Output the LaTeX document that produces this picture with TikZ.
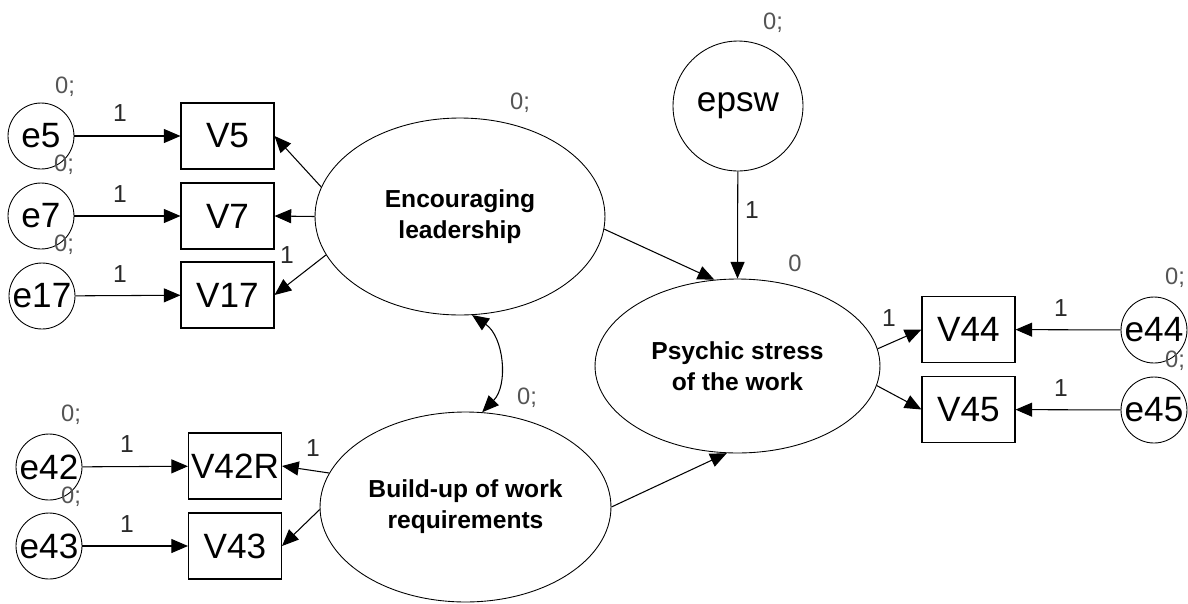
\documentclass[tikz,border=0pt]{standalone}
\usepackage{fontspec}
\setmainfont{Liberation Sans}
\usetikzlibrary{arrows.meta,shapes.geometric}
\definecolor{zgray}{HTML}{555555}
\definecolor{ogray}{HTML}{2A2A2A}
\begin{document}
\begin{tikzpicture}[x=0.02cm,y=-0.02cm,
  obs/.style={draw, rectangle, line width=0.6pt, minimum width=1.86cm, minimum height=1.32cm, inner sep=0pt, font=\fontsize{20}{22}\selectfont},
  err/.style={draw, circle, line width=0.5pt, minimum size=1.32cm, inner sep=0pt, font=\fontsize{20}{22}\selectfont},
  lat/.style={draw, ellipse, line width=0.5pt, inner sep=0pt, align=center, font=\fontsize{14}{17.6}\selectfont\bfseries},
  zlab/.style={text=zgray, font=\fontsize{13.5}{14}\selectfont, inner sep=0pt},
  onelab/.style={text=ogray, font=\fontsize{14}{15}\selectfont, inner sep=0pt},
  arr/.style={-{Triangle[length=9.5pt,width=8pt]}, line width=0.6pt},
  darr/.style={{Triangle[length=9.5pt,width=8pt]}-{Triangle[length=9.5pt,width=8pt]}, line width=0.6pt}
]
\useasboundingbox (0,0) rectangle (1188,603);

% observed variables
\node[obs] (V5)   at (227.5,136) {V5};
\node[obs] (V7)   at (227.5,216) {V7};
\node[obs] (V17)  at (227.5,295) {V17};
\node[obs] (V42R) at (235,466) {V42R};
\node[obs] (V43)  at (235,546) {V43};
\node[obs] (V44)  at (968.5,329.5) {V44};
\node[obs] (V45)  at (968.5,409.5) {V45};

% error terms
\node[err] (e5)  at (41,136) {e5};
\node[err] (e7)  at (41,216) {e7};
\node[err] (e17) at (42,296) {e17};
\node[err] (e42) at (49,467) {e42};
\node[err] (e43) at (49,546) {e43};
\node[err] (e44) at (1154,330) {e44};
\node[err] (e45) at (1154,410) {e45};
\node[err, minimum size=2.6cm] (epsw) at (738,106) {epsw};

% latent variables
\node[lat, minimum width=5.8cm, minimum height=3.94cm] (EL) at (460,216.5) {Encouraging\\leadership};
\node[lat, minimum width=5.82cm, minimum height=3.8cm] (BU) at (465.5,507) {Build-up of work\\requirements};
\node[lat, minimum width=5.7cm, minimum height=3.48cm] (PS) at (737.5,366) {Psychic stress\\of the work};

% error arrows
\draw[arr] (e5) -- (V5);
\draw[arr] (e7) -- (V7);
\draw[arr] (e17) -- (V17);
\draw[arr] (e42) -- (V42R);
\draw[arr] (e43) -- (V43);
\draw[arr] (e44) -- (V44);
\draw[arr] (e45) -- (V45);
\draw[arr] (epsw) -- (PS.north);

% loadings
\draw[arr] (EL.168) -- (V5.east);
\draw[arr] (EL.180) -- (V7.east);
\draw[arr] (EL.196) -- (V17.east);
\draw[arr] (BU.166) -- (V42R.east);
\draw[arr] (BU.181) -- (V43.east);
\draw[arr] (PS.7) -- (V44.west);
\draw[arr] (PS.352) -- (V45.west);

% structural paths
\draw[arr] (EL.355) -- (PS.105);
\draw[arr] (BU.0) -- (PS.263);
\draw[darr] (EL.277) to[bend left=50] (BU.80);

% variance / intercept labels
\node[zlab] (z5)  at (65,87) {0;};
\node[zlab] (z7)  at (64,165) {0;};
\node[zlab] (z17) at (64,245) {0;};
\node[zlab] (zEL) at (520,103) {0;};
\node[zlab] (zep) at (773,23) {0;};
\node[zlab] (zPS) at (795,263) {0};
\node[zlab] (z44) at (1175,278) {0;};
\node[zlab] (z45) at (1175,361) {0;};
\node[zlab] (z42) at (71,415) {0;};
\node[zlab] (z43) at (71,497) {0;};
\node[zlab] (zBU) at (527,398) {0;};

% regression weight labels
\node[onelab] (o5)   at (120,113) {1};
\node[onelab] (o7)   at (120,194) {1};
\node[onelab] (o17)  at (120,274) {1};
\node[onelab] (oV17) at (287,255) {1};
\node[onelab] (oep)  at (752,210) {1};
\node[onelab] (oV44) at (889,318) {1};
\node[onelab] (o44)  at (1061,308) {1};
\node[onelab] (o45)  at (1061,388) {1};
\node[onelab] (o42)  at (127,444) {1};
\node[onelab] (o43)  at (127,524) {1};
\node[onelab] (oV42) at (313,448) {1};
\end{tikzpicture}
\end{document}
